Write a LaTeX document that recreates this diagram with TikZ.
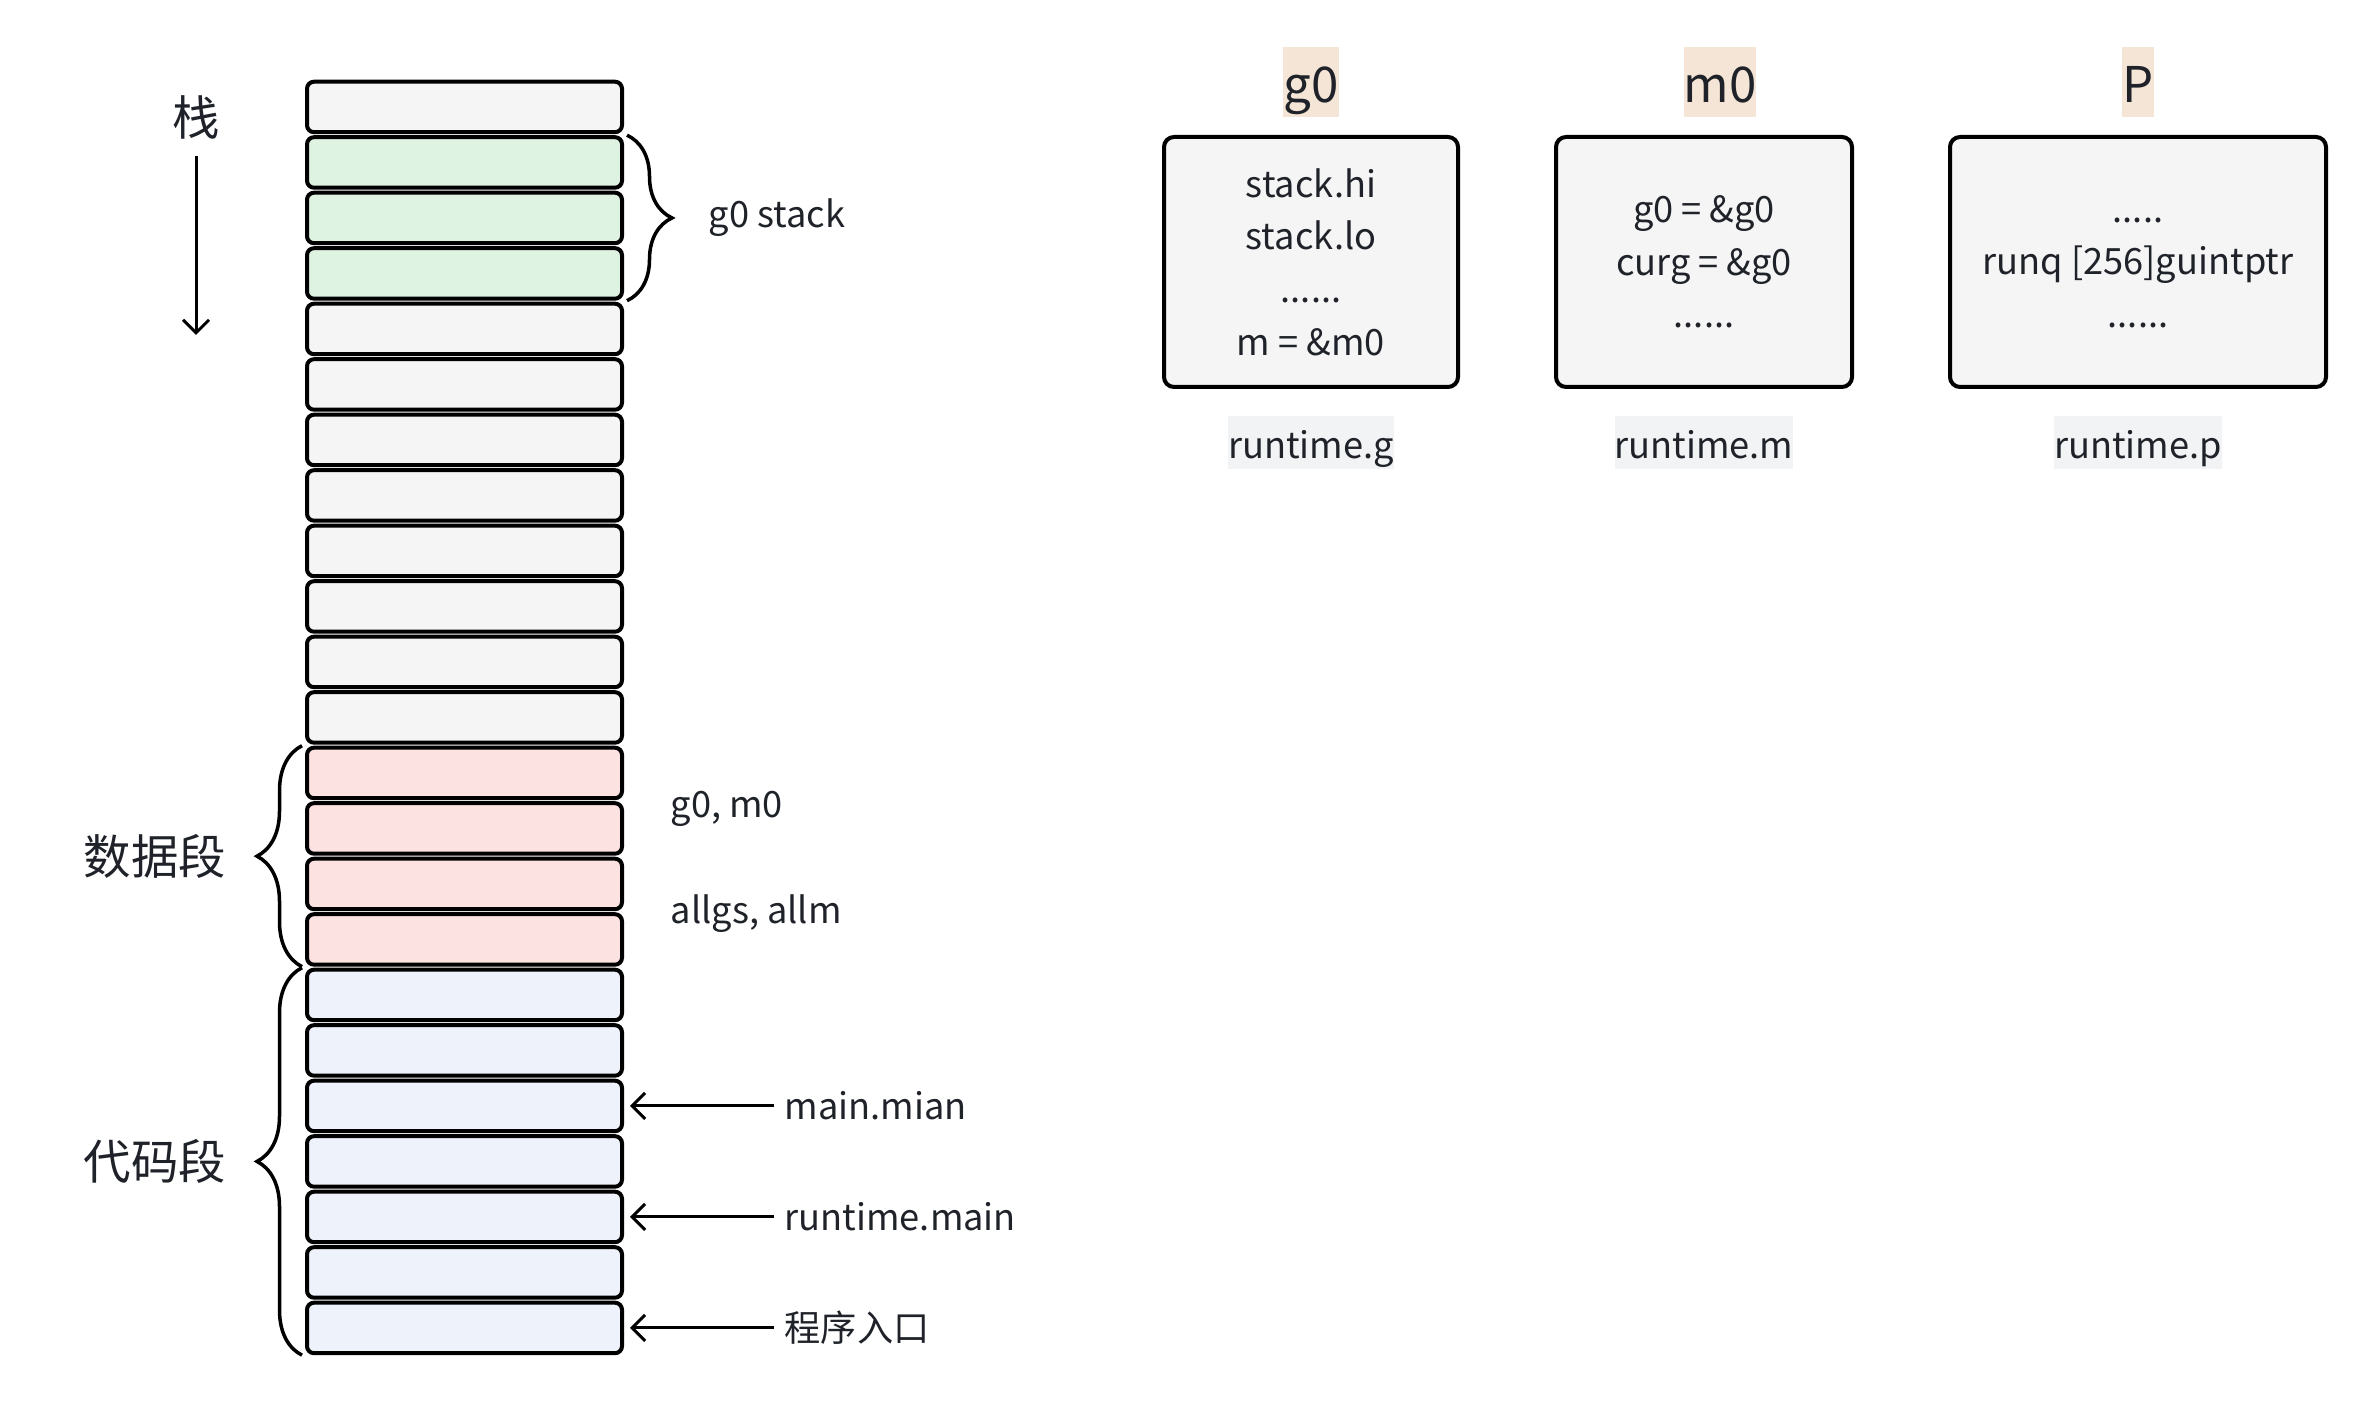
\documentclass[tikz,border=0pt]{standalone}
\usepackage{fontspec}
\setmainfont{Noto Sans CJK SC}
\usetikzlibrary{matrix}
\usetikzlibrary{positioning}
\usetikzlibrary{calc}
\usetikzlibrary{arrows.meta}
\usetikzlibrary{decorations.pathreplacing}
\definecolor{ink}{HTML}{1F2329}
\definecolor{cellgray}{HTML}{F5F5F5}
\definecolor{cellgreen}{HTML}{DFF3E3}
\definecolor{cellpink}{HTML}{FDE2E2}
\definecolor{cellblue}{HTML}{EEF2FB}
\definecolor{namebg}{HTML}{F4E5D6}
\definecolor{typebg}{HTML}{F2F3F5}
\tikzset{
    cell/.style={draw=black, fill=cellgray, line width=0.04cm, rounded corners=0.07cm,
      minimum width=3.15cm, minimum height=0.505cm, inner sep=0pt, outer sep=0.02cm},
    gcell/.style={fill=cellgreen},
    dcell/.style={fill=cellpink},
    tcell/.style={fill=cellblue},
    brace/.style={decorate, decoration={brace, amplitude=0.45cm}, line width=0.035cm},
    ptr/.style={-{Straight Barb[length=1.3mm, width=2.6mm]}, line width=0.03cm},
    lbl/.style={font=\fontsize{10.3pt}{15pt}\selectfont, text=ink, inner sep=0pt},
    seg/.style={font=\fontsize{13.5pt}{16pt}\selectfont, text=ink, inner sep=0pt},
    rtbox/.style={draw=black, fill=cellgray, line width=0.04cm, rounded corners=0.1cm,
      minimum height=2.5cm, align=center, font=\fontsize{10.3pt}{15pt}\selectfont, text=ink},
    structname/.style={fill=namebg, font=\fontsize{14pt}{18pt}\selectfont, text=ink,
      inner xsep=0pt, inner ysep=0pt, text height=0.55cm, text depth=0.15cm},
    typename/.style={lbl, fill=typebg, text height=0.43cm, text depth=0.1cm}
}
\begin{document}
\begin{tikzpicture}
    \path[use as bounding box, fill=white] (0,0) rectangle (23.76,-14.04);
    \matrix
      [
        matrix of nodes,
        name=s,
        nodes in empty cells,
        nodes={cell},
        row sep=0.1mm,
        inner sep=0pt,
        anchor=north
      ] at (4.645,-0.79)
      {
        \\
        |[gcell]| \\
        |[gcell]| \\
        |[gcell]| \\
        \\
        \\
        \\
        \\
        \\
        \\
        \\
        \\
        |[dcell]| \\
        |[dcell]| \\
        |[dcell]| \\
        |[dcell]| \\
        |[tcell]| \\
        |[tcell]| \\
        |[tcell]| \\
        |[tcell]| \\
        |[tcell]| \\
        |[tcell]| \\
        |[tcell]| \\
      };
    \node[seg] (stk) at (1.96,-1.17) {栈};
    \coordinate (stkend) at (1.96,-3.35);
    \draw[ptr] ([yshift=-0.16cm]stk.south) -- (stkend);
    \draw[brace] ([xshift=0.03cm]s-2-1.north east) -- ([xshift=0.03cm]s-4-1.south east)
      node[lbl, midway, right=0.8cm] (g0stk) {g0 stack};
    \draw[brace] ([xshift=-0.03cm]s-16-1.south west) -- ([xshift=-0.03cm]s-13-1.north west)
      node[seg, midway, left=0.74cm] (dseg) {数据段};
    \draw[brace] ([xshift=-0.03cm]s-23-1.south west) -- ([xshift=-0.03cm]s-17-1.north west)
      node[seg, midway, left=0.74cm] (cseg) {代码段};
    \node[lbl, anchor=west] (gm) at ($(s-13-1.south east)!0.5!(s-14-1.north east)+(0.46,-0.08)$) {g0, m0};
    \node[lbl, anchor=west] (alls) at ($(s-15-1.south east)!0.5!(s-16-1.north east)+(0.46,-0.02)$) {allgs, allm};
    \node[lbl, right=1.6cm of s-19-1] (lmain) {main.mian};
    \node[lbl, right=1.6cm of s-21-1] (lrt) {runtime.main};
    \node[lbl, right=1.6cm of s-23-1] (lentry) {程序入口};
    \draw[ptr] ([xshift=-0.1cm]lmain.west) -- ([xshift=0.06cm]s-19-1.east);
    \draw[ptr] ([xshift=-0.1cm]lrt.west) -- ([xshift=0.06cm]s-21-1.east);
    \draw[ptr] ([xshift=-0.1cm]lentry.west) -- ([xshift=0.06cm]s-23-1.east);
    \node[rtbox, minimum width=2.94cm] (gbox) at (13.11,-2.62) {stack.hi\\stack.lo\\......\\m = \&m0};
    \node[rtbox, minimum width=2.96cm] (mbox) at (17.04,-2.62) {g0 = \&g0\\curg = \&g0\\......};
    \node[rtbox, minimum width=3.76cm] (pbox) at (21.38,-2.62) {\vphantom{0}.....\\runq [256]guintptr\\......};
    \node[structname, above=0.17cm of gbox] (gname) {g0};
    \node[structname, above=0.17cm of mbox, xshift=0.16cm] (mname) {m0};
    \node[structname, above=0.17cm of pbox] (pname) {P};
    \node[typename, below=0.26cm of gbox] (gtype) {runtime.g};
    \node[typename, below=0.26cm of mbox] (mtype) {runtime.m};
    \node[typename, below=0.26cm of pbox] (ptype) {runtime.p};
\end{tikzpicture}
\end{document}
